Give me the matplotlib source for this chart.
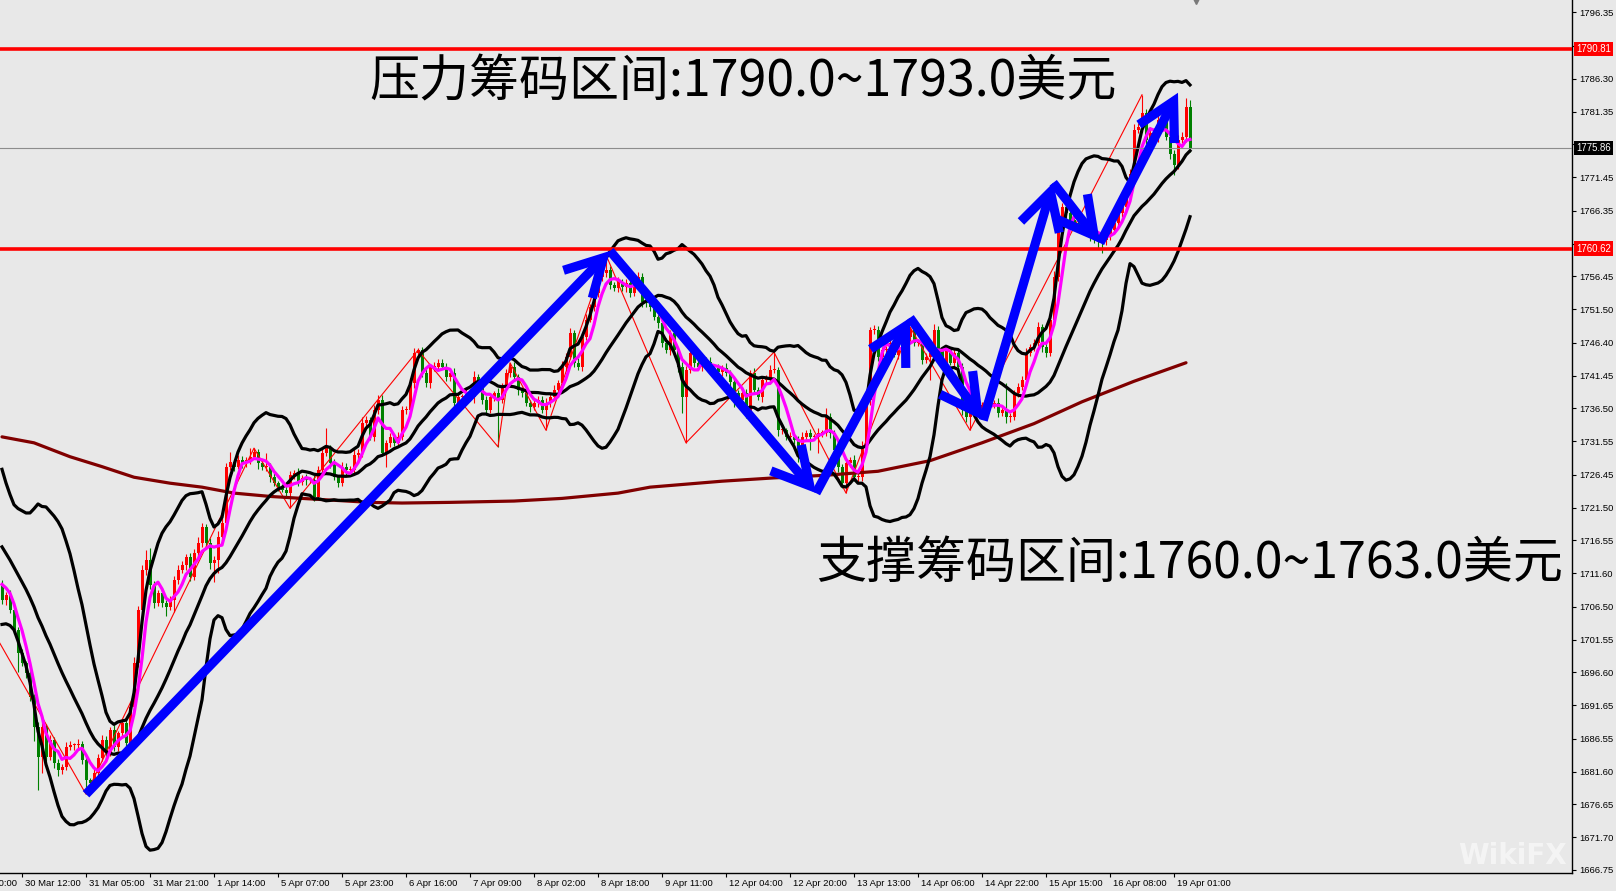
import numpy as np
import matplotlib
matplotlib.use('Agg')
import matplotlib.pyplot as plt
from matplotlib import transforms

# ---------------- data (H1 candles, XAUUSD) ----------------
prior_closes = [1728.0, 1726.0, 1725.0, 1722.0, 1720.0, 1719.0, 1718.0, 1716.0,
                1716.0, 1714.0, 1713.0, 1712.0, 1712.0, 1711.0, 1710.0,
                1711.0, 1710.0, 1711.0, 1710.0]

closes = [
    1707.5, 1708.3, 1706.0, 1703.0, 1699.5, 1698.0, 1696.5, 1692.9, 1688.3, 1683.8,
    1688.3, 1683.8, 1686.4, 1682.9, 1681.9, 1682.3, 1685.3, 1685.6, 1685.6, 1685.8,
    1683.4, 1680.3, 1679.9, 1681.4, 1683.7, 1686.4, 1684.4, 1687.9, 1685.3, 1687.4,
    1688.9, 1685.9, 1691.4, 1698.0, 1706.0, 1712.1, 1713.6, 1709.8, 1707.1, 1708.6,
    1707.1, 1706.5, 1707.5, 1710.6, 1712.1, 1712.8, 1714.0, 1711.0, 1714.6, 1716.2,
    1718.6, 1716.2, 1713.1, 1713.6, 1717.1, 1719.2, 1727.7, 1728.4, 1727.7, 1728.7,
    1728.2, 1728.7, 1729.2, 1729.9, 1728.2, 1727.7, 1727.7, 1726.1, 1725.2, 1724.6,
    1724.2, 1723.7, 1726.4, 1726.7, 1725.4, 1726.0, 1725.7, 1725.7, 1723.1, 1727.2,
    1729.8, 1730.5, 1728.2, 1726.1, 1725.2, 1727.7, 1727.2, 1727.2, 1729.5, 1729.8,
    1734.3, 1734.7, 1732.2, 1736.3, 1737.8, 1729.8, 1731.3, 1732.2, 1731.3, 1732.2,
    1736.3, 1736.3, 1740.3, 1744.9, 1745.3, 1741.9, 1740.3, 1742.8, 1742.8, 1743.4,
    1742.8, 1741.2, 1741.9, 1737.3, 1738.2, 1738.2, 1738.8, 1738.2, 1741.2, 1739.7,
    1737.8, 1736.3, 1738.2, 1738.8, 1737.8, 1739.7, 1741.9, 1742.8, 1741.2, 1739.3,
    1738.8, 1737.3, 1736.7, 1737.3, 1737.8, 1736.3, 1737.3, 1738.2, 1739.3, 1740.3,
    1742.8, 1744.3, 1747.9, 1743.4, 1742.8, 1747.3, 1749.9, 1751.8, 1753.9, 1756.4,
    1757.0, 1757.4, 1755.1, 1754.7, 1755.6, 1754.8, 1755.5, 1753.9, 1755.5, 1756.4,
    1752.6, 1752.4, 1751.8, 1750.3, 1749.4, 1746.4, 1745.3, 1747.9, 1745.3, 1742.8,
    1738.2, 1742.3, 1744.9, 1743.4, 1742.8, 1743.8, 1743.5, 1742.3, 1742.6, 1742.0,
    1742.6, 1741.9, 1740.5, 1738.8, 1737.8, 1738.8, 1735.8, 1741.9, 1739.3, 1738.2,
    1740.8, 1740.8, 1742.3, 1742.3, 1733.2, 1733.2, 1732.2, 1732.2, 1731.7, 1729.2,
    1732.2, 1732.8, 1732.2, 1732.2, 1732.8, 1732.8, 1735.2, 1732.8, 1730.2, 1727.7,
    1725.2, 1728.2, 1728.7, 1726.1, 1726.1, 1730.7, 1737.8, 1748.4, 1748.4, 1744.3,
    1745.3, 1745.3, 1746.4, 1744.6, 1746.1, 1745.3, 1747.3, 1748.4, 1746.4, 1746.4,
    1743.8, 1744.3, 1744.9, 1748.4, 1745.3, 1743.4, 1745.3, 1743.4, 1744.9, 1742.8,
    1736.3, 1735.2, 1736.7, 1736.3, 1735.8, 1737.0, 1737.8, 1737.0, 1737.3, 1735.8,
    1736.3, 1735.2, 1735.2, 1738.8, 1739.7, 1740.8, 1744.9, 1745.8, 1746.4, 1748.8,
    1745.8, 1744.9, 1749.9, 1756.4, 1765.0, 1766.9, 1766.0, 1765.0, 1764.5, 1763.9,
    1763.9, 1763.5, 1763.2, 1762.7, 1762.2, 1761.9, 1762.5, 1763.5, 1764.5, 1766.0,
    1767.0, 1769.5, 1772.0, 1778.6, 1779.0, 1781.1, 1777.1, 1778.1, 1777.5, 1780.1,
    1779.8, 1777.5, 1775.0, 1773.3, 1777.1, 1777.5, 1782.0, 1775.86]

wick_hi = [
    0.6, 0.5, 0.8, 0.4, 0.5, 0.7, 0.4, 0.6, 0.5, 0.8, 0.9, 0.5, 0.7, 0.4, 0.6, 0.5, 0.8, 0.6, 0.4, 0.7,
    0.5, 0.6, 0.4, 0.7, 0.5, 0.8, 0.6, 0.5, 0.7, 0.4, 0.6, 0.5, 0.7, 0.9, 0.6, 0.8, 1.5, 1.8, 0.6, 0.5,
    0.7, 0.4, 0.6, 0.5, 0.8, 0.6, 0.5, 0.7, 0.6, 0.9, 0.6, 0.5, 0.7, 0.6, 0.8, 0.7, 0.6, 1.5, 0.5, 0.7,
    0.6, 0.5, 1.3, 0.6, 0.4, 0.7, 2.1, 0.5, 0.6, 0.4, 0.5, 0.7, 0.6, 0.5, 0.8, 0.4, 0.6, 0.5, 0.7, 0.6,
    0.8, 3.0, 0.5, 0.6, 0.4, 0.7, 0.5, 0.6, 0.8, 0.5, 0.9, 0.6, 0.5, 0.7, 0.8, 0.7, 0.5, 0.6, 0.4, 0.7,
    0.6, 0.5, 0.8, 0.7, 0.3, 0.5, 0.6, 0.4, 0.7, 0.5, 0.6, 0.5, 0.4, 0.7, 0.6, 0.5, 0.8, 0.6, 0.9, 0.5,
    0.6, 0.5, 0.7, 0.4, 0.8, 0.6, 0.5, 0.6, 0.7, 0.5, 0.4, 0.6, 0.5, 0.7, 0.6, 0.5, 0.8, 0.6, 0.7, 0.5,
    0.9, 0.6, 0.8, 0.5, 0.7, 0.6, 0.8, 0.5, 0.7, 0.6, 0.9, 2.3, 0.6, 0.5, 0.7, 0.4, 0.6, 0.5, 0.8, 0.7,
    0.5, 0.6, 0.4, 0.7, 0.5, 0.6, 0.8, 0.5, 0.6, 0.4, 0.7, 0.6, 0.8, 0.5, 0.4, 0.6, 0.5, 0.7, 0.4, 0.6,
    0.5, 0.7, 0.4, 0.6, 0.5, 0.8, 0.6, 0.4, 0.7, 0.5, 0.6, 0.8, 0.7, 2.7, 0.5, 0.6, 0.4, 0.7, 0.5, 0.6,
    0.7, 0.5, 0.6, 0.4, 0.8, 0.5, 1.4, 0.6, 0.5, 0.7, 0.4, 0.6, 0.5, 0.7, 0.6, 0.8, 0.9, 0.4, 0.7, 0.6,
    0.5, 0.6, 0.7, 0.4, 0.6, 0.5, 0.8, 0.4, 0.6, 0.5, 0.7, 0.6, 0.5, 0.8, 0.6, 0.5, 0.7, 0.4, 0.6, 0.5,
    0.6, 0.5, 0.7, 0.4, 0.6, 0.5, 0.8, 0.6, 0.5, 0.7, 0.4, 4.0, 0.6, 0.5, 0.7, 0.6, 0.8, 0.5, 0.6, 0.7,
    0.5, 0.6, 0.8, 0.9, 1.0, 0.7, 0.6, 0.5, 0.7, 0.4, 0.6, 0.5, 0.7, 0.6, 0.5, 0.4, 0.6, 0.8, 0.5, 0.7,
    0.6, 0.8, 0.7, 0.9, 0.6, 2.8, 0.7, 0.9, 0.6, 0.8, 0.7, 0.6, 0.5, 0.6, 0.7, 0.8, 1.4, 1.1]

wick_lo = [
    0.5, 0.7, 0.4, 0.6, 2.9, 0.5, 0.7, 0.6, 2.0, 5.0, 2.4, 0.6, 0.5, 0.7, 1.0, 0.6, 0.5, 0.4, 0.7, 0.5,
    0.6, 2.1, 0.5, 1.0, 0.6, 0.5, 0.7, 0.4, 0.6, 0.5, 0.7, 0.6, 0.5, 0.8, 0.6, 0.5, 0.7, 0.6, 0.8, 0.5,
    0.6, 1.4, 0.5, 1.8, 0.6, 0.5, 0.7, 0.6, 0.5, 0.7, 0.6, 0.5, 0.8, 2.8, 2.0, 0.6, 0.7, 0.5, 0.6, 0.4,
    0.7, 0.5, 0.6, 0.4, 0.8, 0.5, 0.6, 0.7, 0.5, 0.6, 0.4, 0.7, 2.3, 0.5, 0.6, 0.4, 0.7, 0.5, 0.6, 0.5,
    0.6, 0.5, 0.7, 0.4, 0.6, 0.5, 0.8, 0.6, 0.5, 0.7, 0.6, 0.5, 0.4, 0.7, 0.6, 0.5, 2.2, 0.6, 0.5, 0.7,
    0.5, 0.6, 0.4, 0.7, 0.5, 0.6, 0.5, 0.7, 0.6, 0.5, 0.4, 0.6, 0.5, 0.7, 0.6, 0.8, 0.5, 0.6, 0.9, 0.5,
    0.6, 0.8, 0.5, 0.6, 7.1, 0.5, 0.4, 0.6, 0.5, 0.7, 0.6, 0.5, 0.7, 0.4, 0.6, 0.5, 3.1, 0.6, 0.5, 0.7,
    0.5, 0.6, 0.4, 0.7, 0.5, 0.6, 0.5, 0.4, 0.6, 0.5, 0.7, 0.6, 0.5, 0.4, 0.6, 0.5, 0.7, 0.6, 0.4, 0.5,
    0.7, 0.5, 0.6, 0.4, 0.8, 0.6, 0.5, 0.7, 0.6, 0.8, 2.4, 6.9, 0.5, 0.6, 0.4, 0.7, 0.5, 0.6, 0.4, 0.5,
    0.6, 0.5, 0.7, 2.1, 0.5, 0.6, 0.8, 0.5, 0.6, 0.4, 0.7, 0.5, 0.6, 0.4, 0.8, 0.6, 0.5, 0.7, 0.6, 0.8,
    0.5, 0.6, 2.0, 0.5, 2.4, 0.6, 0.5, 0.7, 0.6, 0.8, 0.7, 1.5, 0.6, 0.5, 0.7, 0.6, 0.5, 0.8, 0.6, 0.7,
    0.6, 0.5, 0.7, 0.4, 0.6, 0.5, 0.7, 0.6, 0.5, 0.4, 0.6, 0.5, 3.5, 0.6, 0.7, 0.5, 0.6, 0.4, 0.7, 0.6,
    0.8, 0.7, 2.0, 0.6, 0.5, 0.7, 0.6, 0.5, 0.4, 0.6, 0.5, 0.9, 0.7, 0.5, 0.6, 0.4, 0.7, 0.5, 0.6, 0.5,
    0.7, 0.6, 0.5, 0.8, 0.6, 0.5, 0.7, 0.6, 0.5, 0.8, 0.6, 0.5, 1.4, 1.2, 1.6, 1.9, 0.7, 0.5, 0.6, 0.5,
    0.6, 0.5, 0.7, 0.6, 0.5, 0.8, 0.7, 0.6, 0.5, 0.7, 0.6, 0.5, 0.8, 1.5, 0.6, 0.5, 0.7, 0.6]

# long moving average (dark red), read at sample bars
ma_long_bars = [0, 8, 17, 25, 33, 42, 50, 58, 67, 75, 92, 100, 112, 128, 140, 154,
                162, 180, 193, 206, 219, 232, 245, 258, 270, 283, 296]
ma_long_prices = [1732.2, 1731.3, 1729.2, 1727.7, 1726.1, 1725.2, 1724.6, 1723.7,
                  1723.2, 1722.9, 1722.3, 1722.2, 1722.3, 1722.5, 1722.9, 1723.7,
                  1724.6, 1725.5, 1726.0, 1726.4, 1727.0, 1728.6, 1731.3, 1734.2,
                  1737.5, 1740.6, 1743.4]

# zigzag pivots
zz_bars = [-11, 21, 63, 72, 104, 124, 127, 136, 151, 171, 193, 211, 227, 242, 285]
zz_prices = [1712.1, 1678.2, 1730.5, 1721.4, 1745.3, 1730.7, 1743.4, 1733.2,
             1759.7, 1731.3, 1745.0, 1723.7, 1748.8, 1733.2, 1783.9]

# hand-drawn blue wave arrows (bar position, price)
wave_x = [21.5, 152.5, 204.0, 227.5, 245.8, 263.3, 275.0, 294.5]
wave_p = [1678.2, 1760.3, 1723.7, 1750.2, 1734.7, 1770.6, 1761.5, 1784.2]

resistance = 1790.81
support = 1760.62
bid = 1775.86

y_ticks = [1796.35, 1791.30, 1786.30, 1781.35, 1776.40, 1771.45, 1766.35, 1761.40,
           1756.45, 1751.50, 1746.40, 1741.45, 1736.50, 1731.55, 1726.45, 1721.50,
           1716.55, 1711.60, 1706.50, 1701.55, 1696.60, 1691.65, 1686.55, 1681.60,
           1676.65, 1671.70, 1666.75]
hidden_ticks = [1791.30, 1776.40, 1761.40]   # covered by the price boxes
x_tick_bars = [-10.5, 5.5, 21.5, 37.5, 53.5, 69.5, 85.5, 101.5, 117.5, 133.5, 149.5,
               165.5, 181.5, 197.5, 213.5, 229.5, 245.5, 261.5, 277.5, 293.5]
x_tick_labels = ['29 Mar 20:00', '30 Mar 12:00', '31 Mar 05:00', '31 Mar 21:00',
                 '1 Apr 14:00', '5 Apr 07:00', '5 Apr 23:00', '6 Apr 16:00',
                 '7 Apr 09:00', '8 Apr 02:00', '8 Apr 18:00', '9 Apr 11:00',
                 '12 Apr 04:00', '12 Apr 20:00', '13 Apr 13:00', '14 Apr 06:00',
                 '14 Apr 22:00', '15 Apr 15:00', '16 Apr 08:00', '19 Apr 01:00']

title_top = '压力筹码区间:1790.0~1793.0美元'
title_bottom = '支撑筹码区间:1760.0~1763.0美元'

# ---------------- figure ----------------
BG = '#E8E8E8'
W, H, DPI = 1616, 891, 100
fig = plt.figure(figsize=(W / DPI, H / DPI), dpi=DPI, facecolor=BG)
ax = fig.add_axes([0, 18 / H, 1572 / W, 873 / H], facecolor=BG)
ax.set_xlim(0, 393)
ax.set_ylim(1666.29, 1798.22)

n = len(closes)
xs = np.arange(n) + 0.5
c = np.array(closes)
o = np.concatenate([[prior_closes[-1]], c[:-1]])
hi = np.maximum(o, c) + np.array(wick_hi)
lo = np.minimum(o, c) - np.array(wick_lo)
up = c >= o
col = np.where(up, '#FF0000', '#008000')

ax.vlines(xs, lo, hi, colors=col, lw=0.8, zorder=2)
body_h = np.maximum(np.abs(c - o), 0.15)
ax.bar(xs, body_h, bottom=np.minimum(o, c), width=0.75, color=col, lw=0, zorder=2.1)

# indicators computed from closes
allc = np.array(prior_closes + closes)
p = len(prior_closes)
mid = np.array([allc[i - 19:i + 1].mean() for i in range(p, p + n)])
sd = np.array([allc[i - 19:i + 1].std() for i in range(p, p + n)])
sma5 = np.array([allc[i - 4:i + 1].mean() for i in range(p, p + n)])

ax.plot(np.array(zz_bars) + 0.5, zz_prices, color='#FF0000', lw=0.8, zorder=2.5)
ax.plot(np.array(ma_long_bars) + 0.5, ma_long_prices, color='#800000', lw=2.3,
        zorder=3, solid_capstyle='round')
for band in (mid + 2 * sd, mid, mid - 2 * sd):
    ax.plot(xs, band, color='black', lw=2.3, zorder=3.2, solid_joinstyle='round')
ax.plot(xs, sma5, color='#FF00FF', lw=2.3, zorder=3.4)

ax.axhline(bid, color='#8C8C8C', lw=0.8, zorder=3.5)
ax.axhline(resistance, color='#FF0000', lw=2.6, zorder=3.6)
ax.axhline(support, color='#FF0000', lw=2.6, zorder=3.6)

for i in range(len(wave_x) - 1):
    ax.annotate('', xy=(wave_x[i + 1], wave_p[i + 1]), xytext=(wave_x[i], wave_p[i]),
                arrowprops=dict(arrowstyle='->,head_length=1.1,head_width=0.6',
                                color='#0000FF', lw=6.6, shrinkA=0, shrinkB=0,
                                mutation_scale=24, joinstyle='miter', capstyle='butt'),
                zorder=5)

cjk = ['Noto Sans CJK SC', 'DejaVu Sans']
ax.text(92.3, 1785.7, title_top, fontsize=36, family=cjk, color='black',
        ha='left', va='center', zorder=6)
ax.text(204.0, 1713.0, title_bottom, fontsize=36, family=cjk, color='black',
        ha='left', va='center', zorder=6)

# ---------------- axes styling ----------------
for s in ('left', 'top'):
    ax.spines[s].set_visible(False)
for s in ('right', 'bottom'):
    ax.spines[s].set_color('black')
    ax.spines[s].set_linewidth(1.0)

ax.yaxis.tick_right()
ax.set_yticks(y_ticks)
ax.set_yticklabels(['' if v in hidden_ticks else '%.2f' % v for v in y_ticks])
ax.tick_params(axis='y', direction='out', length=3, width=0.8, pad=2,
               labelsize=6.8, colors='black')
for lab in ax.get_yticklabels():
    lab.set_family('Liberation Sans')

ax.set_xticks([b for b in x_tick_bars if b > 0])
ax.set_xticklabels([])
ax.tick_params(axis='x', direction='out', length=3, width=0.8)
tr = transforms.blended_transform_factory(ax.transData, ax.transAxes)
off = transforms.ScaledTranslation(2 / 72, 0, fig.dpi_scale_trans)
for b, lab in zip(x_tick_bars, x_tick_labels):
    ax.text(b, -0.0125, lab, transform=tr + off, fontsize=6.8, family='Liberation Sans',
            ha='left', va='center', clip_on=False)

# price labels on the right scale
ytr = transforms.blended_transform_factory(ax.transAxes, ax.transData)
for val, fc in ((resistance, '#FF0000'), (support, '#FF0000'), (bid, '#000000')):
    ax.text(1.0025, val, '%.2f' % val, transform=ytr, fontsize=6.9, family='Liberation Sans',
            color='white', ha='left', va='center', zorder=10, clip_on=False,
            bbox=dict(boxstyle='square,pad=0.25', fc=fc, ec='none'))

# chart shift marker
ax.plot([299], [1798.22], marker='v', ms=6, color='#7A7A7A', clip_on=False, zorder=6)

fig.text(1512 / W, 1 - 856 / H, 'WikiFX', fontsize=20, color='white', alpha=0.55,
         ha='center', va='center', family='DejaVu Sans', weight='bold')

fig.savefig('out.png', dpi=DPI, facecolor=BG)
